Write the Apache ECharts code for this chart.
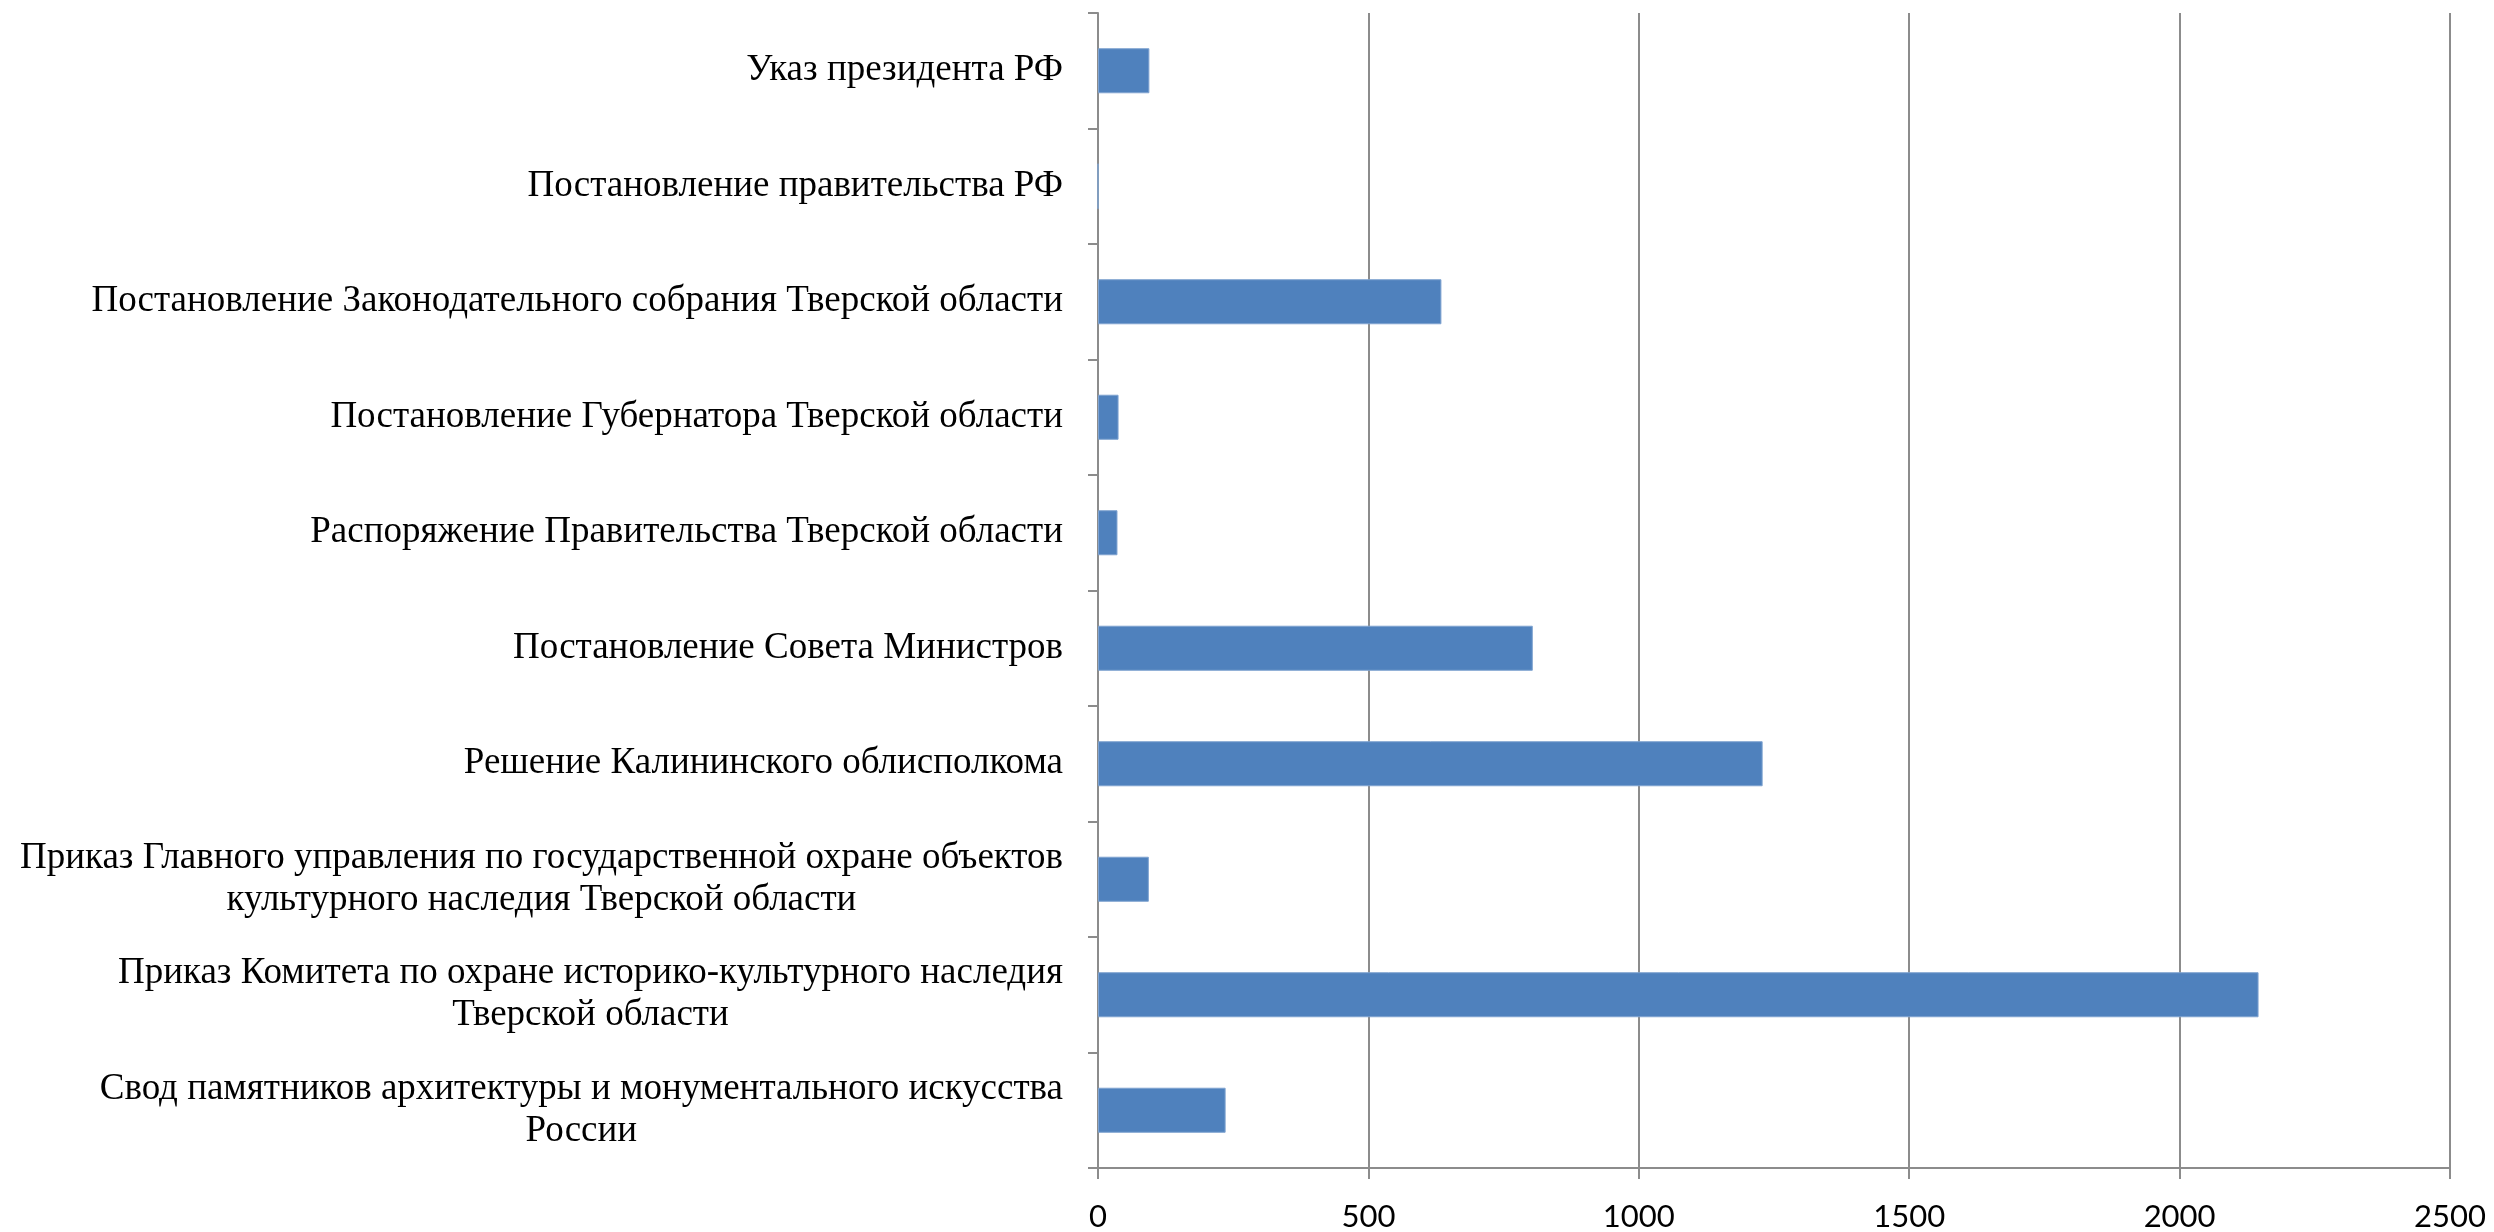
<!DOCTYPE html>
<html>
<head>
<meta charset="utf-8">
<script src="https://cdn.jsdelivr.net/npm/echarts@6/dist/echarts.min.js"></script>
<style>
html,body{margin:0;padding:0;background:#fff;}
#chart{width:2494px;height:1232px;}
</style>
</head>
<body>
<div id="chart"></div>
<script>
// Categories top to bottom
const categories = [
  "Указ президента РФ",
  "Постановление правительства РФ",
  "Постановление Законодательного собрания Тверской области",
  "Постановление Губернатора Тверской области",
  "Распоряжение Правительства Тверской области",
  "Постановление Совета Министров",
  "Решение Калининского облисполкома",
  "Приказ Главного управления по государственной охране объектов\nкультурного наследия Тверской области",
  "Приказ Комитета по охране историко-культурного наследия\nТверской области",
  "Свод памятников архитектуры и монументального искусства\nРоссии"
];
const values = [95, 0, 635, 38, 36, 804, 1229, 94, 2146, 236];
const xTicks = [0, 500, 1000, 1500, 2000, 2500];

const serif = '"Liberation Serif", "Times New Roman", serif';
const chart = echarts.init(document.getElementById('chart'));
chart.setOption({
  animation: false,
  backgroundColor: '#ffffff',
  grid: {left: 1098, right: 44, top: 13, bottom: 64, containLabel: false},
  xAxis: {
    type: 'value',
    min: xTicks[0],
    max: xTicks[xTicks.length - 1],
    interval: 500,
    axisLine: {show: true, lineStyle: {color: '#8c8c8c', width: 2}},
    axisTick: {show: true, length: 11, lineStyle: {color: '#8c8c8c', width: 2}},
    splitLine: {show: true, lineStyle: {color: '#8c8c8c', width: 2}},
    axisLabel: {
      color: '#000', fontSize: 31, fontFamily: 'Lato, "Liberation Sans", sans-serif',
      margin: 33,
      formatter: function (v) { return String(v); }
    }
  },
  yAxis: {
    type: 'category',
    data: categories,
    inverse: true,
    axisLine: {show: true, lineStyle: {color: '#8c8c8c', width: 2}},
    axisTick: {show: true, length: 10, lineStyle: {color: '#8c8c8c', width: 2}},
    splitLine: {show: false},
    axisLabel: {
      color: '#000',
      fontSize: 37,
      fontFamily: serif,
      margin: 35,
      lineHeight: 42,
      formatter: function (v) {
        return v.split('\n').map(s => '{c|' + s + '}').join('\n');
      },
      rich: {
        c: {align: 'center', fontSize: 37, fontFamily: serif, color: '#000', lineHeight: 42}
      }
    }
  },
  series: [{
    type: 'bar',
    data: values,
    barCategoryGap: '61%',
    itemStyle: {color: '#4f81bd', borderColor: '#7fa3d0', borderWidth: 1}
  }]
});
</script>
</body>
</html>
